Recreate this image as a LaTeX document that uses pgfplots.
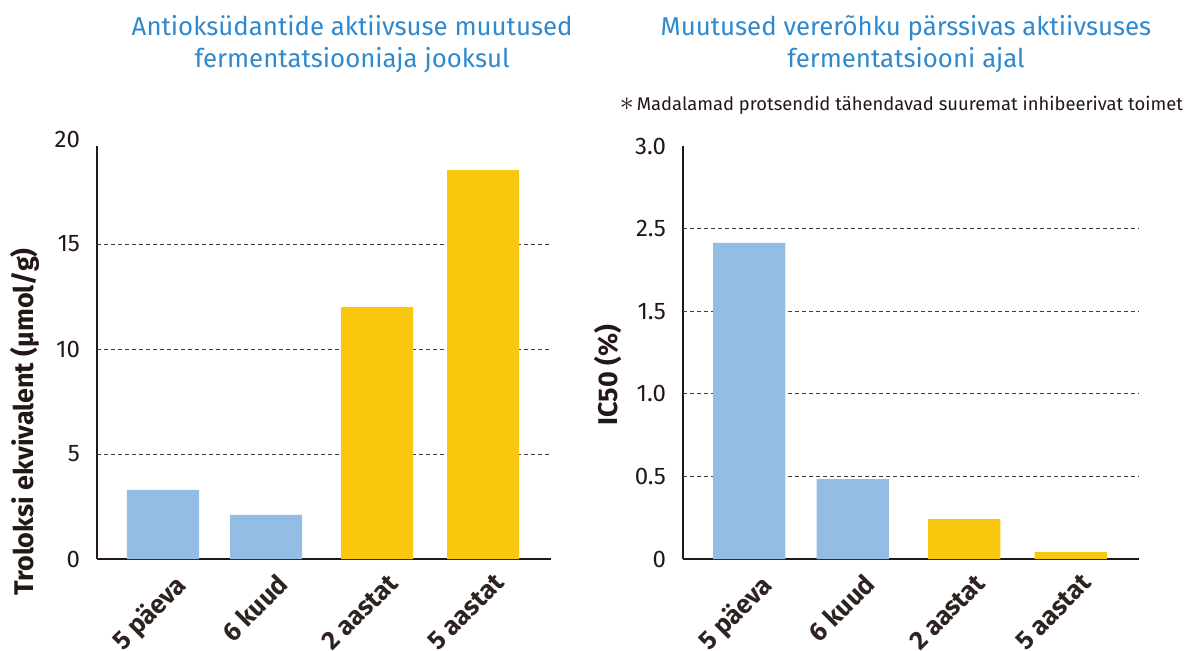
\documentclass[border=0pt]{standalone}
\usepackage{fontspec}
\setmainfont{Fira Sans}
\usepackage{pgfplots}
\pgfplotsset{compat=1.18}

\definecolor{barblue}{HTML}{94BDE5}
\definecolor{baryel}{HTML}{F9C70E}
\definecolor{titleblue}{HTML}{2E89CF}
\definecolor{axblack}{HTML}{231815}

\pgfplotsset{
  panel/.style={
    scale only axis,
    width=227pt, height=206.5pt,
    axis lines=left,
    axis line style={-, line width=1pt, color=axblack},
    xmin=0, xmax=454, ymin=0,
    major tick length=0pt,
    xtick={66,169,280,386},
    xticklabels={5 päeva,6 kuud,2 aastat,5 aastat},
    xticklabel style={rotate=45, anchor=north east, inner sep=1pt,
      font=\fontsize{13}{15}\selectfont\bfseries, text=axblack!95,
      xshift=0pt, yshift=-7pt},
    yticklabel style={font=\fontsize{12}{14}\selectfont, text=axblack, xshift=-5pt},
    ylabel style={font=\fontsize{13.5}{15}\selectfont\bfseries, text=axblack, anchor=center},
    major grid style={axblack!85, line width=0.45pt, dash pattern=on 2pt off 1.5pt},
    extra tick style={grid=major},
    extra y tick labels={},
    every axis plot/.append style={ybar, bar width=72, bar shift=0pt, draw=none},
    clip=false,
  }
}

\begin{document}
\begin{tikzpicture}
\useasboundingbox (0,0) rectangle (593pt,325pt);
\clip (0,0) rectangle (593pt,325pt);

% left: antioxidant activity
\begin{axis}[panel,
    at={(48.5pt,45.5pt)},
    ymax=19.67,
    ytick={0,5,10,15},
    yticklabels={0,5,10,15},
    extra y ticks={5,10,15},
    ylabel={Troloksi ekvivalent (µmol/g)},
    ylabel style={at={(rel axis cs:-0.159,0.332)}},
  ]
  \addplot[fill=barblue] coordinates {(66,3.29) (169,2.1)};
  \addplot[fill=baryel] coordinates {(280,12.0) (386,18.52)};
  \node[anchor=east, text=axblack, font=\fontsize{12}{14}\selectfont, xshift=-5pt]
    at (axis cs:0,20) {20};
  \node[align=center, text=titleblue, font=\fontsize{12.9}{16}\selectfont]
    at (rel axis cs:0.562,1.247)
    {Antioksüdantide aktiivsuse muutused\\fermentatsiooniaja jooksul};
\end{axis}

% right: IC50
\begin{axis}[panel,
    at={(341.5pt,45.5pt)},
    width=228pt,
    ymax=2.5,
    ytick={0,0.5,1,1.5,2,2.5},
    yticklabels={0,0.5,1.0,1.5,2.5,3.0},
    extra y ticks={0.5,1,1.5,2},
    ylabel={IC50 (\%)},
    ylabel style={at={(rel axis cs:-0.164,0.445)}},
  ]
  \addplot[fill=barblue] coordinates {(66,1.913) (169,0.484)};
  \addplot[fill=baryel] coordinates {(280,0.242) (386,0.042)};
  \node[align=center, text=titleblue, font=\fontsize{12.9}{16}\selectfont]
    at (rel axis cs:0.489,1.247)
    {Muutused vererõhku pärssivas aktiivsuses\\fermentatsiooni ajal};
  \node[text=axblack, font=\fontsize{9.2}{11}\selectfont, inner sep=0pt]
    at (rel axis cs:0.479,1.099)
    {\scalebox{1.5}{$\ast$}\,Madalamad protsendid tähendavad suuremat inhibeerivat toimet};
\end{axis}
\end{tikzpicture}
\end{document}
